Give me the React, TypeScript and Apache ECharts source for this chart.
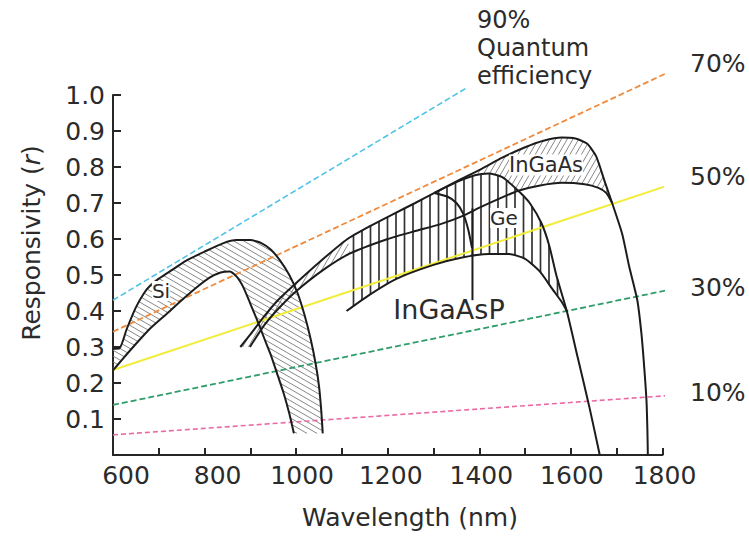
import React, { useEffect, useRef } from "react";
import * as echarts from "echarts";

// ---- data: [wavelength (nm), responsivity (A/W)] ----
const xTickLabels = [600, 800, 1000, 1200, 1400, 1600, 1800];

const siOuter = [
  [600, 0.295], [614, 0.296], [630, 0.35], [650, 0.41], [668, 0.45], [681, 0.47],
  [700, 0.49], [730, 0.515], [760, 0.54], [800, 0.565], [840, 0.588], [870, 0.597],
  [900, 0.597], [925, 0.588], [945, 0.57], [965, 0.54], [985, 0.5], [1003, 0.45],
  [1018, 0.39], [1032, 0.32], [1043, 0.25], [1050, 0.19], [1055, 0.12], [1058, 0.06],
];
const siInner = [
  [600, 0.235], [620, 0.265], [644, 0.3], [680, 0.35], [718, 0.393], [750, 0.43],
  [783, 0.466], [810, 0.492], [835, 0.507], [855, 0.51], [871, 0.494], [885, 0.465],
  [900, 0.42], [915, 0.374], [930, 0.325], [944, 0.28], [960, 0.22], [973, 0.17],
  [985, 0.115], [995, 0.06],
];
const ingaasUpper = [
  [878, 0.3], [900, 0.335], [930, 0.385], [960, 0.43], [1000, 0.478], [1050, 0.535],
  [1112, 0.6], [1160, 0.635], [1210, 0.668], [1260, 0.7], [1302, 0.728], [1350, 0.76],
  [1405, 0.795], [1450, 0.826], [1500, 0.855], [1540, 0.873], [1580, 0.882], [1610, 0.879],
  [1635, 0.865], [1655, 0.83], [1675, 0.755], [1690, 0.7], [1712, 0.614], [1727, 0.525],
  [1745, 0.43], [1754, 0.337], [1760, 0.245], [1765, 0.152], [1767, 0.07], [1768, 0.0],
];
const ingaasLower = [
  [899, 0.3], [930, 0.36], [960, 0.405], [1000, 0.455], [1060, 0.515], [1118, 0.56],
  [1200, 0.6], [1260, 0.622], [1317, 0.642], [1360, 0.662], [1405, 0.69], [1445, 0.713],
  [1485, 0.734], [1530, 0.748], [1580, 0.756], [1630, 0.752], [1660, 0.742], [1677, 0.728],
  [1690, 0.7],
];
const geUpper = [
  [1302, 0.728], [1350, 0.758], [1390, 0.777], [1420, 0.782], [1450, 0.772], [1485, 0.734],
  [1510, 0.7], [1536, 0.643], [1553, 0.58], [1568, 0.5], [1591, 0.4], [1615, 0.27],
  [1640, 0.135], [1663, 0.0],
];
const geLower = [
  [1110, 0.4], [1160, 0.445], [1220, 0.49], [1300, 0.528], [1360, 0.548], [1420, 0.558],
  [1465, 0.558], [1500, 0.545], [1532, 0.51], [1560, 0.46], [1580, 0.425], [1591, 0.4],
];
const ingaaspArc = [[1302, 0.728], [1330, 0.718], [1350, 0.7], [1365, 0.67], [1376, 0.625], [1384, 0.575]];
const ingaaspEdge = [[1385, 0.685], [1385, 0.43]];

// quantum-efficiency reference lines
const qe90 = [[600, 0.43], [1375, 1.022]];
const qe70 = [[600, 0.3425], [1838, 1.078]];
const qe50 = [[600, 0.236], [1834, 0.758]];
const qe30 = [[600, 0.139], [1834, 0.464]];
const qe10 = [[600, 0.056], [1834, 0.167]];

const FONT = "DejaVu Sans";
const TXT = "#2b2b2b";
const CURVE = "#1c1c1c";

// hatch segments of a pixel polygon
function hatch(pts: number[][], angleDeg: number, spacing: number, start: number) {
  const a = (angleDeg * Math.PI) / 180;
  const d = [Math.cos(a), Math.sin(a)];
  const n = [-Math.sin(a), Math.cos(a)];
  const proj = pts.map((p) => p[0] * n[0] + p[1] * n[1]);
  const lo = Math.min(...proj);
  const hi = Math.max(...proj);
  const segs: number[][][] = [];
  for (let c = lo + start; c < hi; c += spacing) {
    const ts: number[] = [];
    for (let i = 0; i < pts.length; i++) {
      const j = (i + 1) % pts.length;
      const s1 = proj[i] - c;
      const s2 = proj[j] - c;
      if (s1 < 0 !== s2 < 0) {
        const t = s1 / (s1 - s2);
        const x = pts[i][0] + (pts[j][0] - pts[i][0]) * t;
        const y = pts[i][1] + (pts[j][1] - pts[i][1]) * t;
        ts.push(x * d[0] + y * d[1]);
      }
    }
    ts.sort((u, v) => u - v);
    for (let k = 0; k + 1 < ts.length; k += 2) {
      segs.push([
        [c * n[0] + ts[k] * d[0], c * n[1] + ts[k] * d[1]],
        [c * n[0] + ts[k + 1] * d[0], c * n[1] + ts[k + 1] * d[1]],
      ]);
    }
  }
  return segs;
}

function hatchSeries(polys: number[][][], angle: number, spacing: number, color: string, width: number, start: number) {
  return {
    type: "custom",
    coordinateSystem: "cartesian2d",
    data: [[600, 0]],
    z: 1,
    silent: true,
    renderItem: (_params: any, api: any) => {
      const children: any[] = [];
      for (const poly of polys) {
        const px = poly.map((p) => api.coord(p));
        for (const [a, b] of hatch(px, angle, spacing, start)) {
          children.push({
            type: "line",
            shape: { x1: a[0], y1: a[1], x2: b[0], y2: b[1] },
            style: { stroke: color, lineWidth: width },
          });
        }
      }
      return { type: "group", children };
    },
  };
}

function curve(data: number[][], name: string) {
  return {
    name,
    type: "line",
    data,
    symbol: "none",
    smooth: 0.2,
    silent: true,
    z: 4,
    lineStyle: { color: CURVE, width: 2 },
  };
}

function qeLine(data: number[][], name: string, color: string, dash: any, width: number) {
  return {
    name,
    type: "line",
    data,
    symbol: "none",
    silent: true,
    clip: false,
    z: 3,
    lineStyle: { color, width, type: dash },
  };
}

export default function App() {
  const ref = useRef<HTMLDivElement>(null);

  useEffect(() => {
    const chart = echarts.init(ref.current!, null, { renderer: "svg" });

    const siPoly = [...siOuter, ...[...siInner].reverse()];
    const ingaasLeft = [
      ...ingaasUpper.filter((p) => p[0] <= 1112),
      ...ingaasLower.filter((p) => p[0] <= 1118).reverse(),
    ];
    const ingaasRight = [
      ...ingaasUpper.filter((p) => p[0] >= 1405 && p[0] <= 1690),
      ...ingaasLower.filter((p) => p[0] >= 1485 && p[0] <= 1690).reverse(),
      ...geUpper.filter((p) => p[0] >= 1390 && p[0] < 1485).reverse(),
    ];
    const verticalPoly = [
      ...ingaasUpper.filter((p) => p[0] >= 1112 && p[0] <= 1302),
      ...geUpper.filter((p) => p[0] > 1302 && p[0] <= 1591),
      ...[...geLower].reverse(),
    ];

    const xShift: Record<number, number> = { 600: 13, 800: 13, 1000: 6, 1200: 3, 1400: 2, 1600: 1, 1800: 2 };
    const rich: Record<string, any> = {};
    for (const v of xTickLabels) {
      rich["t" + v] = { fontFamily: FONT, fontSize: 25, color: TXT, padding: [0, 0, 0, 2 * (xShift[v] || 0)] };
    }

    const txt = (text: string, x: number, y: number, size: number, opts: any = {}) => ({
      type: "text",
      x,
      y,
      z: 10,
      silent: true,
      style: {
        text,
        fontFamily: FONT,
        fontSize: size,
        fill: TXT,
        align: "center",
        verticalAlign: "middle",
        ...opts,
      },
    });

    chart.setOption({
      animation: false,
      backgroundColor: "#ffffff",
      grid: { left: 113, right: 86.5, top: 95, bottom: 84, containLabel: false, outerBoundsMode: "none" },
      xAxis: {
        type: "value",
        min: 600,
        max: 1800,
        interval: 100,
        splitLine: { show: false },
        axisLine: { show: true, onZero: false, lineStyle: { color: "#262626", width: 2 } },
        axisTick: { show: true, inside: true, length: 7, lineStyle: { color: "#262626", width: 2 } },
        axisLabel: {
          show: true,
          margin: 8,
          showMinLabel: true,
          showMaxLabel: true,
          hideOverlap: false,
          fontFamily: FONT,
          fontSize: 25,
          color: TXT,
          rich,
          formatter: (v: number) => {
            const r = Math.round(v);
            return xTickLabels.includes(r) ? `{t${r}|${r}}` : "";
          },
        },
      },
      yAxis: {
        type: "value",
        min: 0,
        max: 1,
        interval: 0.1,
        splitLine: { show: false },
        axisLine: { show: true, onZero: false, lineStyle: { color: "#262626", width: 2 } },
        axisTick: { show: true, inside: true, length: 8, lineStyle: { color: "#262626", width: 2 } },
        axisLabel: {
          show: true,
          margin: 8,
          fontFamily: FONT,
          fontSize: 25,
          color: TXT,
          showMaxLabel: true,
          formatter: (v: number) => (v < 0.05 ? "" : v.toFixed(1)),
        },
      },
      series: [
        hatchSeries([siPoly], 30, 5, "#7a7a7a", 0.9, 2),
        hatchSeries([ingaasLeft, ingaasRight], -60, 5, "#7a7a7a", 0.9, 2),
        hatchSeries([verticalPoly], 90, 8.5, "#333333", 1.7, 0.8),
        qeLine(qe90, "90%", "#52c2e8", [6, 3], 1.6),
        qeLine(qe70, "70%", "#f08a3c", [6, 3], 1.8),
        qeLine(qe50, "50%", "#f2ec3a", "solid", 2),
        qeLine(qe30, "30%", "#2f9d6a", [6, 3], 1.8),
        qeLine(qe10, "10%", "#ea6aa3", [5, 3], 1.6),
        curve(siOuter, "Si outer"),
        curve(siInner, "Si inner"),
        curve(ingaasUpper, "InGaAs upper"),
        curve(ingaasLower, "InGaAs lower"),
        curve(geUpper, "Ge upper"),
        curve(geLower, "Ge lower"),
        curve(ingaaspArc, "InGaAsP upper"),
        curve(ingaaspEdge, "InGaAsP edge"),
      ],
      graphic: {
        elements: [
          {
            type: "text",
            x: 31,
            y: 243,
            rotation: Math.PI / 2,
            z: 10,
            silent: true,
            style: {
              text: "{n|Responsivity (}{i|r}{n|)}",
              align: "center",
              verticalAlign: "middle",
              rich: {
                n: { fontFamily: FONT, fontSize: 25, fill: TXT },
                i: { fontFamily: FONT, fontSize: 25, fill: TXT, fontStyle: "italic" },
              },
            },
          },
          txt("Wavelength (nm)", 410, 517, 25),
          txt("90%", 477, 20, 24, { align: "left" }),
          txt("Quantum", 477, 48, 24, { align: "left" }),
          txt("efficiency", 477, 76, 24, { align: "left" }),
          txt("70%", 690, 63, 25, { align: "left" }),
          txt("50%", 690, 176, 25, { align: "left" }),
          txt("30%", 690, 287, 25, { align: "left" }),
          txt("10%", 690, 392, 25, { align: "left" }),
          txt("Si", 161, 291, 20, { backgroundColor: "#fff" }),
          txt("Ge", 504, 218, 20, { backgroundColor: "#fff" }),
          txt("InGaAs", 546, 165, 21, { backgroundColor: "#fff" }),
          txt("InGaAsP", 449, 309, 27),
        ],
      },
    });

    return () => chart.dispose();
  }, []);

  return (
    <div
      ref={ref}
      style={{ position: "absolute", left: 0, top: 0, width: 749, height: 539, background: "#fff" }}
    />
  );
}
